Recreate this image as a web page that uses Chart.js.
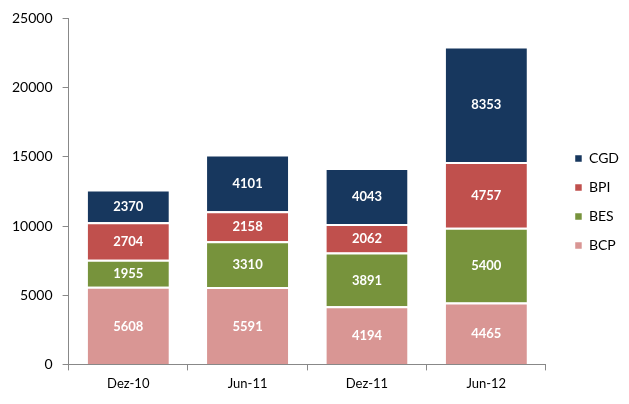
<!DOCTYPE html>
<html>
<head>
<meta charset="utf-8">
<script src="https://cdn.jsdelivr.net/npm/chart.js@4/dist/chart.umd.min.js"></script>
<style>
  html, body { margin: 0; padding: 0; background: #fff; }
  #wrap { width: 629px; height: 404px; }
</style>
</head>
<body>
<div id="wrap"><canvas id="chart" width="629" height="404"></canvas></div>
<script>
const categories = ['Dez-10', 'Jun-11', 'Dez-11', 'Jun-12']
const bcp = [5608, 5591, 4194, 4465]
const bes = [1955, 3310, 3891, 5400]
const bpi = [2704, 2158, 2062, 4757]
const cgd = [2370, 4101, 4043, 8353]
const yTicks = [0, 5000, 10000, 15000, 20000, 25000]

const font = 'Lato, "Open Sans", sans-serif'

// white numbers in the middle of each segment
const segmentLabels = {
  id: 'segmentLabels',
  afterDatasetsDraw(chart) {
    const ctx = chart.ctx
    ctx.save()
    ctx.fillStyle = '#fff'
    ctx.font = 'bold 13px ' + font
    ctx.textAlign = 'center'
    ctx.textBaseline = 'middle'
    chart.data.datasets.forEach((ds, i) => {
      chart.getDatasetMeta(i).data.forEach((bar, j) => {
        const mid = (bar.y + bar.base) / 2
        ctx.fillText(ds.data[j], bar.x, mid + 1)
      })
    })
    ctx.restore()
  }
}

function series(label, data, color) {
  return {
    label,
    data,
    backgroundColor: color,
    borderColor: '#fff',
    borderWidth: { top: 2, bottom: 0, left: 0, right: 0 },
    borderSkipped: false,
    categoryPercentage: 0.68,
    barPercentage: 1
  }
}

new Chart(document.getElementById('chart'), {
  type: 'bar',
  data: {
    labels: categories,
    datasets: [
      series('BCP', bcp, '#D99694'),
      series('BES', bes, '#77933C'),
      series('BPI', bpi, '#C0504D'),
      series('CGD', cgd, '#17375E')
    ]
  },
  options: {
    responsive: false,
    animation: false,
    layout: { padding: { left: 2, right: 0, top: 6, bottom: 6 } },
    plugins: {
      legend: {
        position: 'right',
        reverse: true,
        labels: {
          boxWidth: 7,
          boxHeight: 7,
          padding: 15,
          color: '#000',
          font: { family: font, size: 14 }
        }
      },
      tooltip: { enabled: false }
    },
    scales: {
      x: {
        stacked: true,
        grid: { drawOnChartArea: false, drawTicks: true, tickLength: 6, color: '#888', offset: true },
        border: { display: true, color: '#888' },
        ticks: { color: '#000', font: { family: font, size: 13 }, padding: 6 }
      },
      y: {
        stacked: true,
        min: yTicks[0],
        max: yTicks[yTicks.length - 1],
        afterBuildTicks: axis => { axis.ticks = yTicks.map(v => ({ value: v })) },
        grid: { drawOnChartArea: false, drawTicks: true, tickLength: 6, color: '#888' },
        border: { display: true, color: '#888' },
        ticks: { color: '#000', font: { family: font, size: 14 }, padding: 10, callback: v => String(v) }
      },
      // empty spacer between plot and legend
      gap: {
        type: 'linear',
        position: 'right',
        display: true,
        grid: { display: false },
        border: { display: false },
        ticks: { display: false },
        afterFit: s => { s.width = 14 }
      }
    }
  },
  plugins: [segmentLabels]
})
</script>
</body>
</html>
